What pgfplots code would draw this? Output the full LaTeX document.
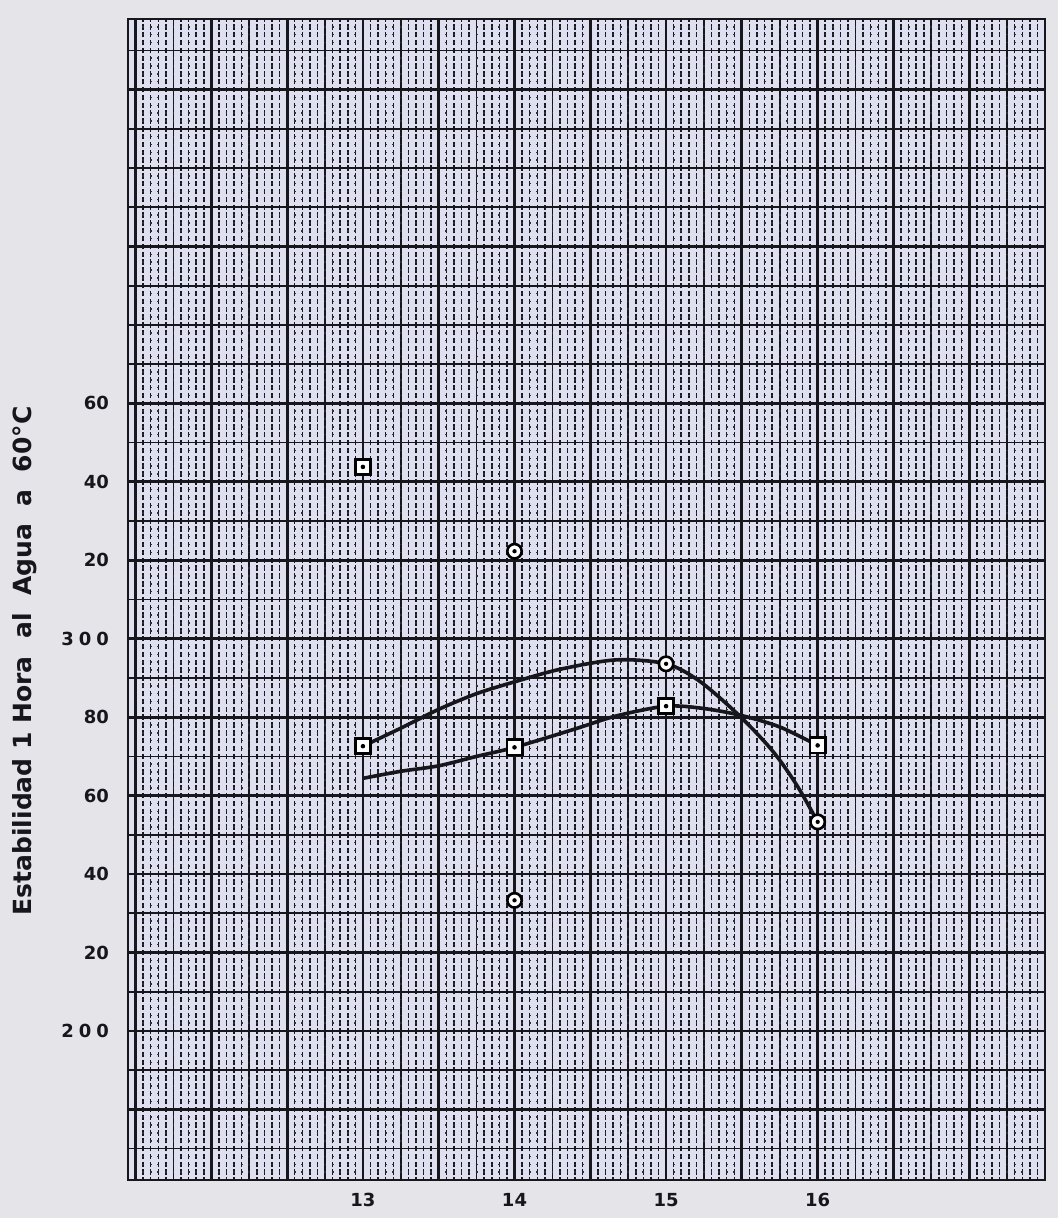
\documentclass[border=0pt]{standalone}
\usepackage{fontspec}
\setmainfont{DejaVu Sans}
\usepackage{pgfplots}
\pgfplotsset{compat=1.18}

\definecolor{ink}{RGB}{22,22,28}
\definecolor{paper}{RGB}{222,224,240}
\definecolor{sheet}{RGB}{229,229,233}

% square marker with a dot in the middle
\pgfdeclareplotmark{sqdot}{%
  \pgfsetfillcolor{white}%
  \pgfpathrectangle{\pgfqpoint{-\pgfplotmarksize}{-\pgfplotmarksize}}{\pgfqpoint{2\pgfplotmarksize}{2\pgfplotmarksize}}%
  \pgfusepathqfillstroke
  \pgfsetfillcolor{black}%
  \pgfpathcircle{\pgfpointorigin}{0.3\pgfplotmarksize}%
  \pgfusepathqfill}
% circle marker with a dot in the middle
\pgfdeclareplotmark{cdot}{%
  \pgfsetfillcolor{white}%
  \pgfpathcircle{\pgfpointorigin}{\pgfplotmarksize}%
  \pgfusepathqfillstroke
  \pgfsetfillcolor{black}%
  \pgfpathcircle{\pgfpointorigin}{0.3\pgfplotmarksize}%
  \pgfusepathqfill}

\begin{document}
\begin{tikzpicture}
\fill[sheet] (-64pt,-19pt) rectangle (465pt,590pt);
\begin{axis}[
  at={(0,0)}, anchor=south west,
  scale only axis, width=458.5pt, height=580.5pt,
  xmin=11.45, xmax=17.5, ymin=162, ymax=458,
  axis background/.style={fill=paper},
  axis line style={line width=1.4pt, ink},
  major tick length=0pt, minor tick length=0pt,
  /pgf/number format/assume math mode=true,
  ticklabel style={font=\fontsize{9}{10}\selectfont\bfseries, text=ink},
  % half-square lines
  xtick={11.75,12.25,...,17.25}, xticklabels={},
  ytick={170,190,...,450}, yticklabels={},
  % millimetre lines
  minor xtick={11.45,11.5,...,17.5},
  minor ytick={162,164,...,458},
  grid=both,
  major grid style={line width=0.85pt, ink},
  minor x grid style={line width=0.75pt, ink, dash pattern=on 2.7pt off 1.2223pt, dash phase=1.35pt},
  minor y grid style={line width=0.75pt, ink!90, dash pattern=on 0.9pt off 2.8893pt, dash phase=0.45pt},
  % full-square lines with the labels
  extra x ticks={11.5,12,...,17},
  extra x tick labels={,,,13,,14,,15,,16,,},
  extra x tick style={grid=major, major grid style={line width=1.4pt, ink}},
  extra y ticks={180,200,...,440},
  extra y tick labels={,2\hspace{2.5pt}0\hspace{2.5pt}0,20,40,60,80,3\hspace{2.5pt}0\hspace{2.5pt}0,20,40,60,,,,},
  extra y tick style={grid=major, major grid style={line width=1.4pt, ink}},
  yticklabel style={anchor=east, xshift=-6pt},
  xticklabel style={yshift=-3pt},
  ylabel={Estabilidad 1 Hora\ \ al\ \ Agua\ \ a\ \ 60°C},
  ylabel style={at={(rel axis cs:-0.1047,0.447)}, anchor=base, inner sep=0pt,
    font=\fontsize{12.5}{14}\selectfont\bfseries, text=ink},
]
% upper curve
\addplot[smooth, line width=1.8pt, ink] coordinates {
  (13,272.6) (13.25,277.2) (13.5,282) (13.75,286) (14,289) (14.3,292.2)
  (14.67,294.6) (15,293.6) (15.22,289.2) (15.48,280.5) (15.7,271.5)
  (15.86,262.8) (16,253.3)};
% lower curve
\addplot[smooth, line width=1.8pt, ink] coordinates {
  (13,264.4) (13.25,266.2) (13.5,267.6) (13.75,270) (14,272.3) (14.4,277)
  (14.67,280.3) (15,282.8) (15.25,282.2) (15.5,280.4) (15.75,277.5) (16,272.8)};
% square points
\addplot[only marks, mark=sqdot, mark size=3.8pt,
  mark options={draw=black, line width=1.4pt, solid}] coordinates {
  (13,343.8) (13,272.6) (14,272.3) (15,282.8) (16,272.8)};
% circle points
\addplot[only marks, mark=cdot, mark size=3.6pt,
  mark options={draw=black, line width=1.3pt, solid}] coordinates {
  (14,322.3) (14,233.3) (15,293.6) (16,253.3)};
\end{axis}
\pgfresetboundingbox
\path[use as bounding box] (-64pt,-19pt) rectangle (465pt,590pt);
\end{tikzpicture}
\end{document}
